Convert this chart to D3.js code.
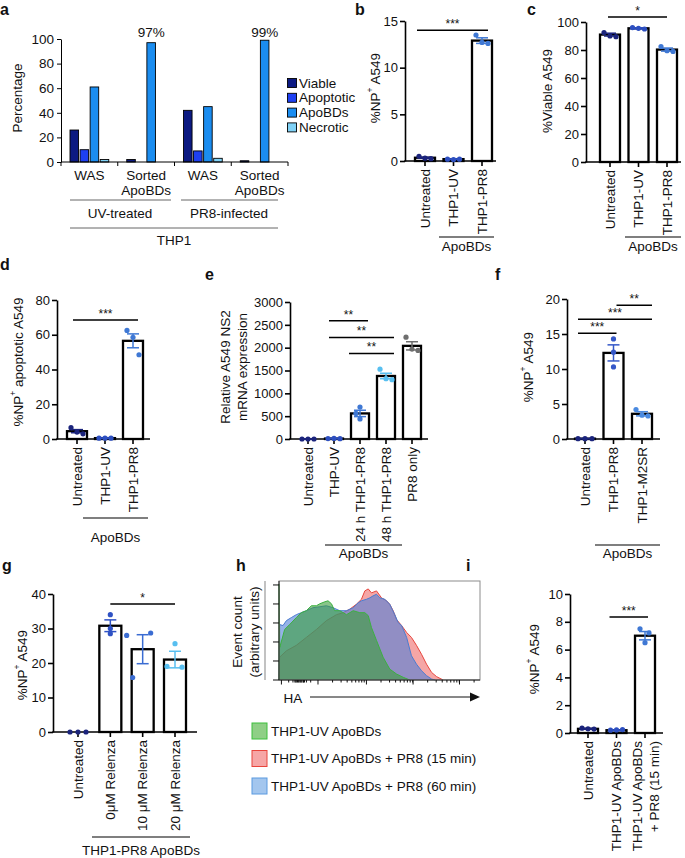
<!DOCTYPE html>
<html><head><meta charset="utf-8">
<script src="https://cdn.jsdelivr.net/npm/d3@7"></script>
<style>
body{margin:0;background:#fff}
svg{display:block}
text{font-family:"Liberation Sans",Arial,Helvetica,sans-serif;fill:#111}
</style>
</head><body>
<svg id="fig" width="685" height="858"></svg>
<script>
// ================= DATA =================
// panel a
const aGroups = ["WAS|UV", "Sorted|UV", "WAS|PR8", "Sorted|PR8"];
const aSeries = ["Viable", "Apoptotic", "ApoBDs", "Necrotic"];
const aViable = [26, 2, 42, 1];
const aApoptotic = [10, 0, 9, 0];
const aApoBDs = [61, 97, 45, 99];
const aNecrotic = [2, 0, 3, 0];
const aTicks = [0, 20, 40, 60, 80, 100];
const aPctLabels = ["", "97%", "", "99%"];

// panel b
const bCats = ["Untreated", "THP1-UV", "THP1-PR8"];
const bMeans = [0.35, 0.2, 12.9];
const bSem = [0.05, 0.03, 0.3];
const bPoints = [[0.5, 0.3, 0.25], [0.2, 0.15, 0.2], [13.5, 12.7, 12.6]];
const bTicks = [0, 5, 10, 15];

// panel c
const cCats = ["Untreated", "THP1-UV", "THP1-PR8"];
const cMeans = [91, 95.5, 80.3];
const cSem = [1, 0.4, 1.1];
const cPoints = [[92.5, 90, 89.5], [96, 95.5, 95], [82.5, 79.5, 79]];
const cTicks = [0, 20, 40, 60, 80, 100];

// panel d
const dCats = ["Untreated", "THP1-UV", "THP1-PR8"];
const dMeans = [4.5, 0.5, 56.5];
const dSem = [0.9, 0.1, 4];
const dPoints = [[6.5, 4, 3], [0.5, 0.5, 0.5], [62.5, 58.5, 48.5]];
const dTicks = [0, 20, 40, 60, 80];

// panel e
const eCats = ["Untreated", "THP-UV", "24 h THP1-PR8", "48 h THP1-PR8", "PR8 only"];
const eMeans = [0, 10, 560, 1380, 2040];
const eSem = [2, 3, 70, 60, 90];
const ePoints = [[0, 0, 0], [10, 12, 8], [700, 560, 440], [1530, 1320, 1300], [2230, 1970, 1940]];
const eTicks = [0, 500, 1000, 1500, 2000, 2500, 3000];

// panel f
const fCats = ["Untreated", "THP1-PR8", "THP1-M2SR"];
const fMeans = [0.05, 12.3, 3.6];
const fSem = [0.02, 1.15, 0.3];
const fPoints = [[0.05, 0.05, 0.05], [14.3, 12.4, 10.3], [4.2, 3.4, 3.3]];
const fTicks = [0, 5, 10, 15, 20];

// panel g
const gCats = ["Untreated", "0μM Relenza", "10 μM Relenza", "20 μM Relenza"];
const gMeans = [0, 30.8, 24, 21];
const gSem = [0, 1.7, 4.2, 2.4];
const gPoints = [[0, 0, 0], [34, 30, 28.5], [28, 28.7, 15.8], [25.6, 19, 18.8]];
const gTicks = [0, 10, 20, 30, 40];

// panel h  (x: HA channel as % of axis, y: relative event count)
const hGreen = [[0,0],[0,97],[0.4,33],[2.8,51],[5.3,56],[8.6,63],[11.1,68],[13.6,70],[16.1,75],[18.6,75],[20.3,77],[22.8,79],[24.4,80],[26.1,77],[27.7,70],[30.2,70],[33.6,66],[36.9,70],[40.2,68],[42.7,68],[44.4,65],[46,53],[48.5,40],[51.8,23],[55.1,11],[58.5,6],[61.8,2.7],[65.1,0]];
const hRed = [[0,0],[0.3,23],[3.7,29.5],[8.6,35],[13.6,43],[18.6,51],[23.6,60],[28.6,66],[31.9,68],[35.2,71.5],[38.5,76.5],[41,81.5],[42.7,90],[44.4,92],[46,88],[48.5,90],[51,83],[53.5,80],[55.1,76.5],[56.8,70],[58.5,61],[61,55],[63.5,48],[65.9,43],[68.4,35],[70.9,26],[73.4,16],[75.9,7.7],[78.4,3.4],[81.7,0]];
const hBlue = [[0,0],[0.3,56],[2,55],[3.7,60],[6.1,63],[8.6,66],[11.1,68],[13.6,70],[16.9,73],[20.3,74],[23.6,75],[26.9,73],[30.2,70],[33.6,70],[36.9,73],[39.4,78],[41,80],[43.5,81.5],[45.2,83],[46.8,85],[48.5,86.6],[50.2,83],[52.7,81.5],[55.1,76.5],[57.6,66],[59.3,58],[61,55],[63.5,43],[65.9,24.5],[68.4,16],[70.9,9.4],[73.4,4.4],[75.9,1],[77.6,0]];
const hMajor = [1.2, 19.4, 43.5, 66.7, 89.8];
const hLegend = ["THP1-UV ApoBDs", "THP1-UV ApoBDs + PR8 (15 min)", "THP1-UV ApoBDs + PR8 (60 min)"];

// panel i
const iCats = ["Untreated", "THP1-UV ApoBDs", "THP1-UV ApoBDs|+ PR8 (15 min)"];
const iMeans = [0.3, 0.2, 7.0];
const iSem = [0.03, 0.02, 0.3];
const iPoints = [[0.35, 0.3, 0.28], [0.2, 0.22, 0.25], [7.5, 7.2, 6.5]];
const iTicks = [0, 2, 4, 6, 8, 10];

// ================= DRAWING =================
const svg = d3.select("#fig");
const FONT = '"Liberation Sans",Arial,Helvetica,sans-serif';
const FS = 13.5;       // label font size
const TS = 13;         // tick font size
const NAVY = "#1b247c", BLUE = "#2d4fc0", MID = "#3f78d4", LIGHT = "#58bff0", GRAY = "#6e6e6e";

function txt(g, x, y, s, o = {}) {
  const t = g.append("text").attr("x", x).attr("y", y).text(s)
    .attr("font-size", o.size || FS).attr("text-anchor", o.anchor || "start");
  if (o.weight) t.attr("font-weight", o.weight);
  if (o.rotate) t.attr("transform", `rotate(-90,${x},${y})`);
  if (o.baseline) t.attr("dominant-baseline", o.baseline);
  return t;
}
function npTitle(g, x, y, pre, post) {
  const t = g.append("text").attr("x", x).attr("y", y).attr("font-size", FS)
    .attr("text-anchor", "middle").attr("dominant-baseline", "central")
    .attr("transform", `rotate(-90,${x},${y})`);
  t.append("tspan").text(pre);
  t.append("tspan").attr("font-size", 8.5).attr("dy", -5).text("+");
  t.append("tspan").attr("dy", 5).text(post);
}
function styleAxis(sel, size, w) {
  sel.attr("font-family", FONT).attr("font-size", size);
  sel.selectAll("path,line").attr("stroke", "#000").attr("stroke-width", w);
  sel.selectAll("text").attr("fill", "#111");
}
function letter(x, y, s) { txt(svg, x, y, s, { size: 16, weight: "bold" }); }

// ---------- panel a ----------
(function () {
  const g = svg.append("g");
  const y = d3.scaleLinear().domain([0, 100]).range([162, 39]);
  const x = d3.scaleBand().domain(aGroups).range([61, 288]);
  const inner = d3.scaleBand().domain(aSeries).range([9, x.bandwidth() - 9]).paddingInner(0.15);
  const vals = { Viable: aViable, Apoptotic: aApoptotic, ApoBDs: aApoBDs, Necrotic: aNecrotic };
  const cols = { Viable: "#0c1a82", Apoptotic: "#1e40f2", ApoBDs: "#1b8df0", Necrotic: "#80d2f6" };
  aGroups.forEach((grp, i) => {
    aSeries.forEach(s => {
      const v = vals[s][i];
      if (v <= 0) return;
      g.append("rect").attr("x", x(grp) + inner(s)).attr("width", inner.bandwidth())
        .attr("y", y(v)).attr("height", y(0) - y(v))
        .attr("fill", cols[s]).attr("stroke", "#000").attr("stroke-width", 0.9);
    });
    if (aPctLabels[i]) txt(g, x(grp) + inner("ApoBDs") + inner.bandwidth() / 2, 37, aPctLabels[i], { anchor: "middle" });
  });
  const ya = g.append("g").attr("transform", "translate(61,0)")
    .call(d3.axisLeft(y).tickValues(aTicks).tickSize(4).tickSizeOuter(0).tickPadding(3).tickFormat(d3.format("d")));
  styleAxis(ya, TS + 0.5, 1);
  g.append("line").attr("x1", 61).attr("x2", 288).attr("y1", 162).attr("y2", 162).attr("stroke", "#000");
  aGroups.concat(["end"]).forEach(grp => {
    const xx = grp === "end" ? 288 : x(grp);
    g.append("line").attr("x1", xx).attr("x2", xx).attr("y1", 162).attr("y2", 166).attr("stroke", "#000");
  });
  aGroups.forEach(grp => {
    const cx = x(grp) + x.bandwidth() / 2;
    const name = grp.split("|")[0];
    if (name === "WAS") txt(g, cx, 180, "WAS", { anchor: "middle" });
    else { txt(g, cx, 180, "Sorted", { anchor: "middle" }); txt(g, cx, 195, "ApoBDs", { anchor: "middle" }); }
  });
  const ln = (x1, x2, yy) => g.append("line").attr("x1", x1).attr("x2", x2).attr("y1", yy).attr("y2", yy).attr("stroke", "#666").attr("stroke-width", 1);
  ln(70, 171, 200); ln(181, 278, 200); ln(70, 278, 228);
  txt(g, 120, 218, "UV-treated", { anchor: "middle" });
  txt(g, 229, 218, "PR8-infected", { anchor: "middle" });
  txt(g, 174, 245, "THP1", { anchor: "middle" });
  txt(g, 17, 98, "Percentage", { anchor: "middle", rotate: true, baseline: "central" });
  aSeries.forEach((s, i) => {
    const yy = 83 + i * 14.8;
    g.append("rect").attr("x", 287.5).attr("y", yy - 4.5).attr("width", 9).attr("height", 9)
      .attr("fill", cols[s]).attr("stroke", "#000").attr("stroke-width", 0.9);
    txt(g, 299, yy, s, { baseline: "central" });
  });
})();

// ---------- generic bar + dot panel ----------
function barPanel(c) {
  const g = svg.append("g");
  const y = d3.scaleLinear().domain([0, c.max]).range([c.bottom, c.top]);
  const x = d3.scalePoint().domain(c.cats).range([c.first, c.last]);
  const bw = c.barW || 20;
  const dx = c.dx || [-6, 0, 6];
  c.cats.forEach((k, i) => {
    g.append("rect").attr("x", x(k) - bw / 2).attr("width", bw)
      .attr("y", y(c.means[i])).attr("height", Math.max(0, y(0) - y(c.means[i])))
      .attr("fill", "#fff").attr("stroke", "#000").attr("stroke-width", 2.3);
  });
  const ya = g.append("g").attr("transform", `translate(${c.left},0)`)
    .call(d3.axisLeft(y).tickValues(c.ticks).tickSize(5).tickSizeOuter(0).tickPadding(2).tickFormat(d3.format("d")));
  styleAxis(ya, TS, 1.6);
  g.append("line").attr("x1", c.left - 0.8).attr("x2", c.right).attr("y1", c.bottom).attr("y2", c.bottom)
    .attr("stroke", "#000").attr("stroke-width", 1.6);
  c.cats.forEach(k => {
    g.append("line").attr("x1", x(k)).attr("x2", x(k)).attr("y1", c.bottom).attr("y2", c.bottom + 5)
      .attr("stroke", "#000").attr("stroke-width", 1.6);
  });
  c.cats.forEach((k, i) => {
    const col = c.colors[i];
    const m = c.means[i], s = c.sem[i];
    const cx = x(k);
    if (s > 0) {
      g.append("line").attr("x1", cx).attr("x2", cx).attr("y1", y(m - s)).attr("y2", y(m + s)).attr("stroke", col).attr("stroke-width", 1.5);
      [m - s, m + s].forEach(v => g.append("line").attr("x1", cx - 6).attr("x2", cx + 6).attr("y1", y(v)).attr("y2", y(v)).attr("stroke", col).attr("stroke-width", 1.5));
    }
    const offs = (c.pdx && c.pdx[i]) || dx;
    c.points[i].forEach((v, j) => {
      g.append("circle").attr("cx", cx + offs[j]).attr("cy", y(v)).attr("r", 2.6).attr("fill", col);
    });
  });
  c.cats.forEach(k => {
    const lines = k.split("|");
    lines.forEach((l, li) => {
      const off = lines.length > 1 ? (li === 0 ? -8 : 9) : 0;
      txt(g, x(k) + off, c.bottom + 8, l, { anchor: "end", rotate: true, baseline: "central" });
    });
  });
  (c.sig || []).forEach(sg => {
    const x1 = x(c.cats[sg.a]) + sg.d1, x2 = x(c.cats[sg.b]) + sg.d2, yy = y(sg.v);
    g.append("line").attr("x1", x1).attr("x2", x2).attr("y1", yy).attr("y2", yy).attr("stroke", "#000").attr("stroke-width", 1.5);
    txt(g, (x1 + x2) / 2, yy - 2, sg.label, { anchor: "middle", size: 12 });
  });
  if (c.bracket) {
    const br = c.bracket;
    g.append("line").attr("x1", br.x1).attr("x2", br.x2).attr("y1", br.y).attr("y2", br.y).attr("stroke", "#000").attr("stroke-width", 1.2);
    txt(g, (br.x1 + br.x2) / 2, br.ty, br.label, { anchor: "middle" });
  }
  return { x, y, g };
}

barPanel({ cats: bCats, means: bMeans, sem: bSem, points: bPoints, ticks: bTicks, max: 15,
  left: 405, right: 496, bottom: 161, top: 21, first: 425, last: 482,
  colors: [NAVY, BLUE, MID],
  sig: [{ a: 0, b: 2, d1: -8, d2: 6, v: 14, label: "***" }],
  bracket: { x1: 439, x2: 494, y: 237, ty: 251, label: "ApoBDs" } });
npTitle(svg, 375, 88, "%NP", " A549");

barPanel({ cats: cCats, means: cMeans, sem: cSem, points: cPoints, ticks: cTicks, max: 100,
  left: 586, right: 681, bottom: 162, top: 22, first: 610, last: 667,
  colors: [NAVY, BLUE, MID],
  sig: [{ a: 0, b: 2, d1: -2, d2: 0, v: 103.5, label: "*" }],
  bracket: { x1: 625, x2: 681, y: 237, ty: 251, label: "ApoBDs" } });
txt(svg, 547, 91, "%Viable A549", { anchor: "middle", rotate: true, baseline: "central" });

barPanel({ cats: dCats, means: dMeans, sem: dSem, points: dPoints, ticks: dTicks, max: 80,
  left: 57, right: 150, bottom: 439, top: 300, first: 77, last: 133,
  colors: [NAVY, BLUE, MID],
  sig: [{ a: 0, b: 2, d1: -4, d2: 5, v: 68.5, label: "***" }],
  bracket: { x1: 83, x2: 148, y: 518, ty: 542, label: "ApoBDs" } });
npTitle(svg, 18, 362, "%NP", " apoptotic A549");

barPanel({ cats: eCats, means: eMeans, sem: eSem, points: ePoints, ticks: eTicks, max: 3000,
  left: 290, right: 428, bottom: 439, top: 302, first: 308, last: 412, barW: 18,
  colors: [NAVY, BLUE, MID, LIGHT, GRAY],
  pdx: [null, null, [0, -4, 0], null, null],
  sig: [{ a: 1, b: 2, d1: -5, d2: 8, v: 2590, label: "**" },
        { a: 1, b: 3, d1: -5, d2: 8, v: 2223, label: "**" },
        { a: 2, b: 3, d1: -11, d2: 8, v: 1874, label: "**" }],
  bracket: { x1: 325, x2: 402, y: 545, ty: 558, label: "ApoBDs" } });
txt(svg, 225, 367, "Relative A549 NS2", { anchor: "middle", rotate: true, baseline: "central" });
txt(svg, 242, 367, "mRNA expression", { anchor: "middle", rotate: true, baseline: "central" });

barPanel({ cats: fCats, means: fMeans, sem: fSem, points: fPoints, ticks: fTicks, max: 20,
  left: 567, right: 660, bottom: 439, top: 299, first: 585, last: 642,
  colors: [NAVY, "#3558c8", "#4a8ae0"],
  pdx: [[-7, 0, 7], [0, 0, 0], [-6, 0, 6]],
  sig: [{ a: 0, b: 1, d1: -7, d2: 3, v: 15.1, label: "***" },
        { a: 0, b: 2, d1: -7, d2: 10, v: 17.1, label: "***" },
        { a: 1, b: 2, d1: 3, d2: 10, v: 19.1, label: "**" }],
  bracket: { x1: 595, x2: 660, y: 545, ty: 558, label: "ApoBDs" } });
npTitle(svg, 528, 367, "%NP", " A549");

barPanel({ cats: gCats, means: gMeans, sem: gSem, points: gPoints, ticks: gTicks, max: 40,
  left: 53, right: 197, bottom: 732, top: 594, first: 78, last: 175, barW: 22,
  colors: [NAVY, "#2f52c4", "#3a6cd2", LIGHT],
  pdx: [[-8, 0, 8], [0, 0, 0], [-16, 8, -10], [0, -8, 7]],
  sig: [{ a: 1, b: 3, d1: 0, d2: 0, v: 37.1, label: "*" }],
  bracket: { x1: 92, x2: 190, y: 837, ty: 855, label: "THP1-PR8 ApoBDs" } });
npTitle(svg, 22, 665, "%NP", " A549");

barPanel({ cats: iCats, means: iMeans, sem: iSem, points: iPoints, ticks: iTicks, max: 10,
  left: 570, right: 663, bottom: 733, top: 594, first: 588, last: 645,
  colors: [NAVY, BLUE, MID],
  pdx: [[-6, 0, 6], [-6, 0, 6], [-5, 4, 0]],
  sig: [{ a: 1, b: 2, d1: -7, d2: 3, v: 8.35, label: "***" }] });
npTitle(svg, 534, 659, "%NP", " A549");

// ---------- panel h ----------
(function () {
  const g = svg.append("g");
  const L = 279, R = 480, T = 581, B = 680;
  const x = d3.scaleLinear().domain([0, 100]).range([L, R]);
  const y = d3.scaleLinear().domain([0, 100]).range([B, T]);
  const area = d3.area().x(d => x(d[0])).y0(y(0)).y1(d => y(d[1]));
  const line = d3.line().x(d => x(d[0])).y(d => y(d[1]));
  const sets = [
    { d: hRed, fill: "#ee6a6a", stroke: "#e8453c" },
    { d: hBlue, fill: "#4f7fd8", stroke: "#4a7cd0" },
    { d: hGreen, fill: "#3a9e3a", stroke: "#3cb040" }];
  sets.forEach(s => {
    g.append("path").attr("d", area(s.d)).attr("fill", s.fill).attr("fill-opacity", 0.6);
    g.append("path").attr("d", line(s.d)).attr("fill", "none").attr("stroke", s.stroke).attr("stroke-width", 1);
  });
  g.append("rect").attr("x", L).attr("y", T).attr("width", R - L).attr("height", B - T)
    .attr("fill", "none").attr("stroke", "#8c8c8c").attr("stroke-width", 1);
  g.append("line").attr("x1", L).attr("x2", L).attr("y1", T).attr("y2", B).attr("stroke", "#222").attr("stroke-width", 1);
  g.append("line").attr("x1", L).attr("x2", R).attr("y1", B).attr("y2", B).attr("stroke", "#222").attr("stroke-width", 1);
  d3.range(6).map(k => k * 19.2).forEach(v => {
    g.append("line").attr("x1", L - 6).attr("x2", L).attr("y1", y(v)).attr("y2", y(v)).attr("stroke", "#111").attr("stroke-width", 1);
  });
  const step = hMajor[2] - hMajor[1];
  hMajor.forEach(v => g.append("line").attr("x1", x(v)).attr("x2", x(v)).attr("y1", B).attr("y2", B + 4.5).attr("stroke", "#111"));
  const minors = [];
  for (let i = 1; i < hMajor.length; i++) {
    for (let k = 2; k <= 9; k++) {
      const v = hMajor[i] + Math.log10(k) * step;
      if (v < 100) minors.push(v);
    }
  }
  for (let k = 2; k <= 9; k++) {
    minors.push(hMajor[1] - Math.log10(k) * step * 0.5);
    minors.push(hMajor[0] + Math.log10(k) * step * 0.5);
  }
  minors.forEach(v => g.append("line").attr("x1", x(v)).attr("x2", x(v)).attr("y1", B).attr("y2", B + 2.5).attr("stroke", "#111"));
  g.append("line").attr("x1", 265).attr("x2", 265).attr("y1", T).attr("y2", B).attr("stroke", "#999").attr("stroke-width", 1.2);
  txt(g, 293, 703, "HA", { anchor: "middle" });
  g.append("line").attr("x1", 310).attr("x2", 472).attr("y1", 697).attr("y2", 697).attr("stroke", "#111").attr("stroke-width", 1);
  g.append("path").attr("d", "M470,692.5 L480,697 L470,701.5 Z").attr("fill", "#111");
  txt(g, 237, 632, "Event count", { anchor: "middle", rotate: true, baseline: "central" });
  txt(g, 254, 632, "(arbitrary units)", { anchor: "middle", rotate: true, baseline: "central" });
  const lf = [["#8fcf86", "#3cc03c"], ["#f6a6a6", "#e8453c"], ["#a3c6ee", "#5a9ae0"]];
  hLegend.forEach((s, i) => {
    const yy = 731 + i * 27.5;
    g.append("rect").attr("x", 252).attr("y", yy - 8).attr("width", 15).attr("height", 16)
      .attr("fill", lf[i][0]).attr("stroke", lf[i][1]).attr("stroke-width", 1);
    txt(g, 271, yy, s, { baseline: "central" });
  });
})();

// panel letters
letter(0, 15, "a"); letter(355, 15, "b"); letter(527, 15, "c");
letter(0, 270, "d"); letter(205, 280, "e"); letter(495, 280, "f");
letter(2, 571, "g"); letter(236, 571, "h"); letter(466, 571, "i");
</script>
</body></html>
